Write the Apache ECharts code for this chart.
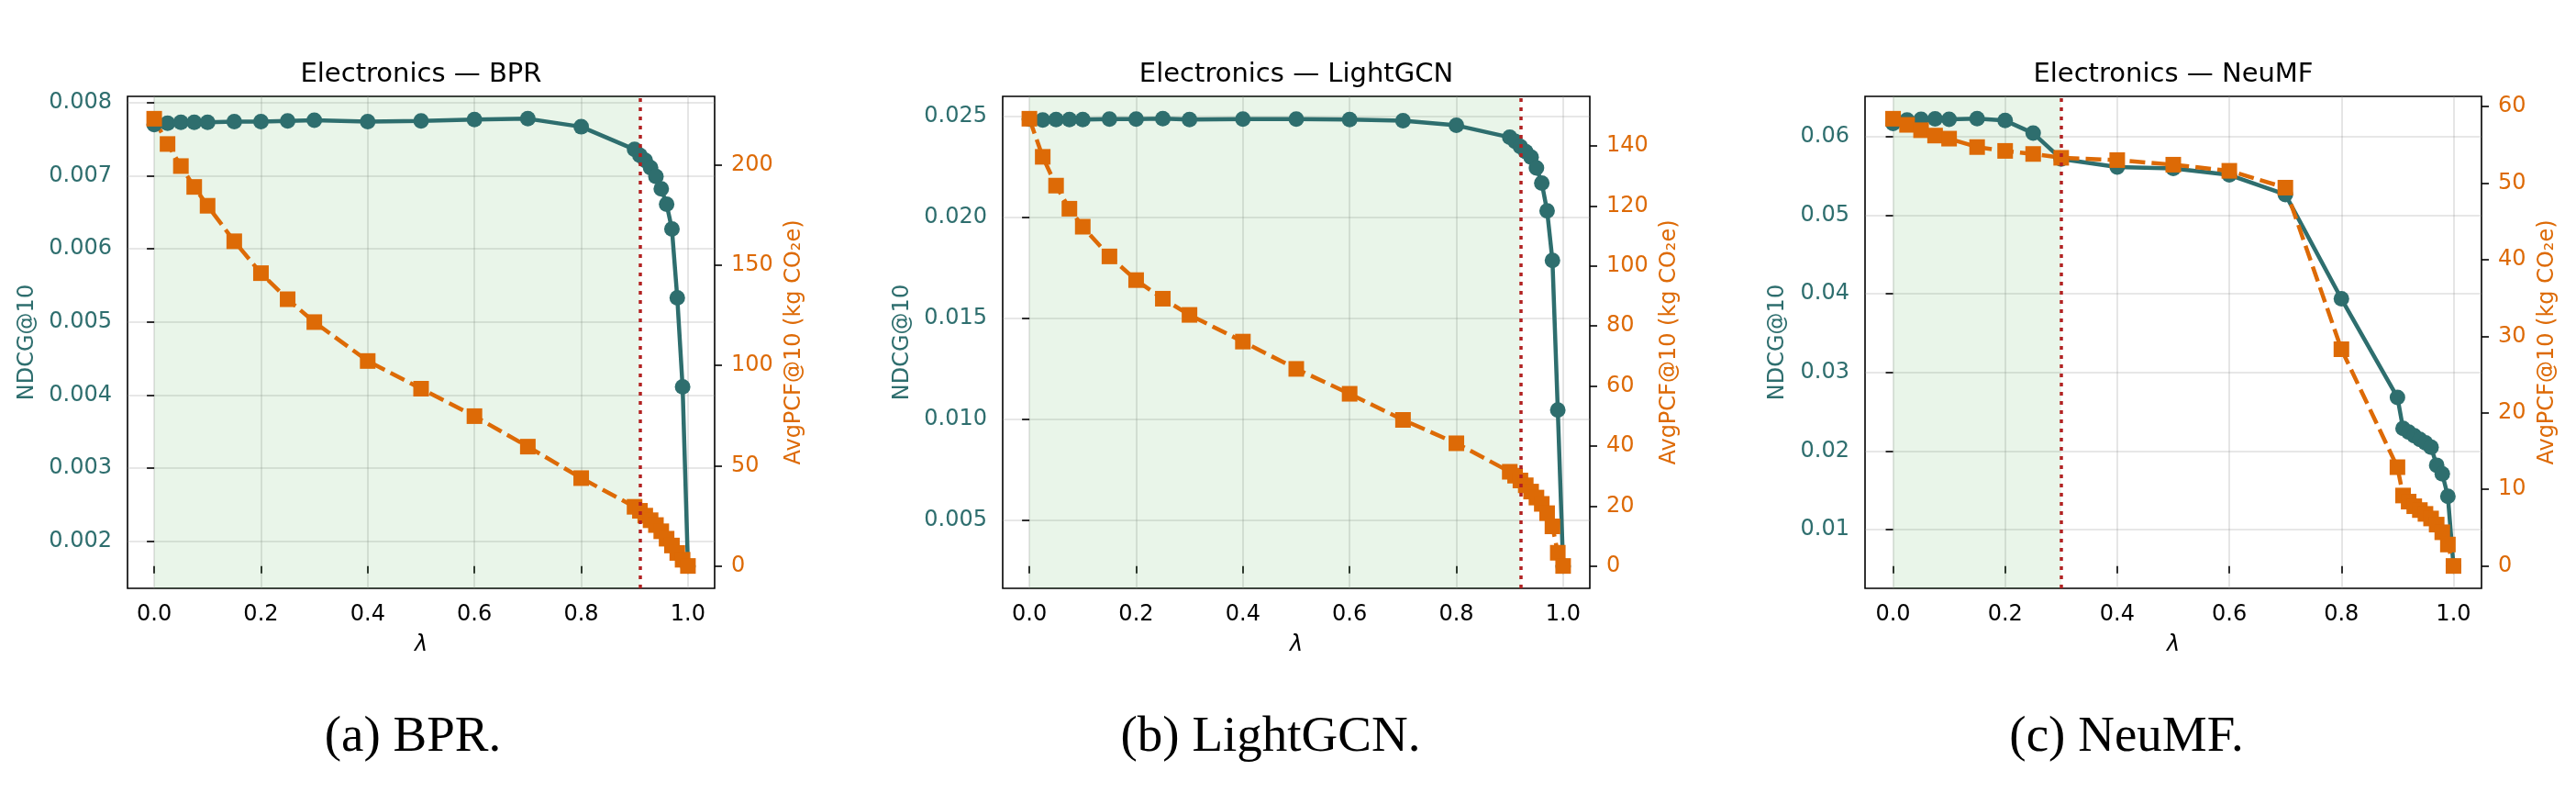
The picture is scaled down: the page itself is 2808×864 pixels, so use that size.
<!DOCTYPE html>
<html>
<head>
<meta charset="utf-8">
<script src="https://cdn.jsdelivr.net/npm/echarts@6/dist/echarts.min.js"></script>
<style>
html,body{margin:0;padding:0;background:#fff;}
#chart{width:2808px;height:864px;}
</style>
</head>
<body>
<div id="chart"></div>
<script>
// ---- data ----
const lambdas = [0, 0.025, 0.05, 0.075, 0.1, 0.15, 0.2, 0.25, 0.3, 0.4, 0.5, 0.6, 0.7, 0.8, 0.9, 0.91, 0.92, 0.93, 0.94, 0.95, 0.96, 0.97, 0.98, 0.99, 1.0];

const bprNdcg = [0.00770, 0.00772, 0.00773, 0.00773, 0.00773, 0.00774, 0.00774, 0.00775, 0.00776, 0.00774, 0.00775, 0.00777, 0.00778, 0.00767, 0.00736, 0.00728, 0.00721, 0.00711, 0.00699, 0.00682, 0.00661, 0.00627, 0.00533, 0.00411, 0.00166];
const bprPcf = [223.0, 210.4, 199.4, 189.0, 179.6, 161.9, 146.0, 133.0, 121.6, 102.2, 88.4, 74.7, 59.5, 43.8, 29.5, 27.5, 25.1, 22.8, 20.4, 17.3, 13.6, 10.2, 6.5, 3.1, 0.0];

const lgcnNdcg = [0.02488, 0.02484, 0.02486, 0.02486, 0.02486, 0.02488, 0.02488, 0.02490, 0.02486, 0.02488, 0.02488, 0.02486, 0.02480, 0.02457, 0.02398, 0.02378, 0.02352, 0.02327, 0.02299, 0.02246, 0.02171, 0.02033, 0.01787, 0.01045, 0.00272];
const lgcnPcf = [149.1, 136.4, 126.8, 119.1, 113.1, 103.2, 95.3, 89.1, 83.7, 74.8, 65.7, 57.4, 48.7, 40.9, 31.4, 30.1, 28.5, 26.9, 24.8, 22.8, 20.7, 17.6, 13.2, 4.4, 0.0];

const neumfNdcg = [0.06172, 0.06214, 0.06224, 0.06230, 0.06224, 0.06231, 0.06208, 0.06047, 0.05719, 0.05615, 0.05599, 0.05516, 0.05266, 0.03938, 0.02682, 0.02286, 0.02240, 0.02193, 0.02146, 0.02104, 0.02047, 0.01818, 0.01708, 0.01422, 0.00535];
const neumfPcf = [58.4, 57.6, 56.9, 56.2, 55.8, 54.7, 54.2, 53.8, 53.3, 53.0, 52.4, 51.6, 49.4, 28.3, 12.9, 9.2, 8.4, 7.8, 7.3, 6.8, 6.2, 5.4, 4.4, 2.8, 0.0];

const thresholds = [0.91, 0.92, 0.30];

const titles = ["Electronics — BPR", "Electronics — LightGCN", "Electronics — NeuMF"];
const captions = ["(a) BPR.", "(b) LightGCN.", "(c) NeuMF."];

const xTicks = [0.0, 0.2, 0.4, 0.6, 0.8, 1.0];
const bprNdcgTicks = [0.002, 0.003, 0.004, 0.005, 0.006, 0.007, 0.008];
const bprPcfTicks = [0, 50, 100, 150, 200];
const lgcnNdcgTicks = [0.005, 0.010, 0.015, 0.020, 0.025];
const lgcnPcfTicks = [0, 20, 40, 60, 80, 100, 120, 140];
const neumfNdcgTicks = [0.01, 0.02, 0.03, 0.04, 0.05, 0.06];
const neumfPcfTicks = [0, 10, 20, 30, 40, 50, 60];

// ---- layout / style ----
const TEAL = '#2E6E6E';
const ORANGE = '#DD6A06';
const FONT = 'DejaVu Sans';
const FS = 24;
const layout = [
  {left: 139, top: 105, width: 640, height: 536, leftGap: 97, rightGap: 75, capX: 450},
  {left: 1093, top: 105, width: 640, height: 536, leftGap: 97, rightGap: 75, capX: 1385},
  {left: 2033, top: 105, width: 672, height: 536, leftGap: 83, rightGap: 60, capX: 2318}
];
const panels = [
  {ndcg: bprNdcg, pcf: bprPcf, nt: bprNdcgTicks, pt: bprPcfTicks, dec: 3},
  {ndcg: lgcnNdcg, pcf: lgcnPcf, nt: lgcnNdcgTicks, pt: lgcnPcfTicks, dec: 3},
  {ndcg: neumfNdcg, pcf: neumfPcf, nt: neumfNdcgTicks, pt: neumfPcfTicks, dec: 2}
];

function padRange(arr) {
  const lo = Math.min.apply(null, arr), hi = Math.max.apply(null, arr);
  const s = hi - lo;
  return [lo - 0.05 * s, hi + 0.05 * s];
}

const grids = [], xAxes = [], yAxes = [], series = [], graphics = [];
panels.forEach((p, i) => {
  const L = layout[i];
  grids.push({left: L.left, top: L.top, width: L.width, height: L.height, show: true,
    borderColor: '#000', borderWidth: 1.6, backgroundColor: 'transparent', containLabel: false});
  const xr = padRange(lambdas);
  xAxes.push({
    type: 'value', gridIndex: i, min: xr[0], max: xr[1],
    axisLine: {show: false},
    axisTick: {show: true, length: 8, customValues: xTicks, lineStyle: {color: '#000', width: 1.6}},
    axisLabel: {customValues: xTicks, formatter: v => v.toFixed(1), color: '#000', fontSize: FS, fontFamily: FONT, margin: 17},
    splitLine: {show: true, lineStyle: {color: 'rgba(150,150,150,0.3)', width: 1.6}},
    name: 'λ', nameLocation: 'middle', nameGap: 50,
    nameTextStyle: {color: '#000', fontSize: FS, fontFamily: FONT, fontStyle: 'italic'}
  });
  const nr = padRange(p.ndcg), pr = padRange(p.pcf);
  yAxes.push({
    type: 'value', gridIndex: i, position: 'left', min: nr[0], max: nr[1],
    axisLine: {show: false},
    axisTick: {show: true, length: 8, customValues: p.nt, lineStyle: {color: '#000', width: 1.6}},
    axisLabel: {customValues: p.nt, formatter: v => v.toFixed(p.dec), color: TEAL, fontSize: FS, fontFamily: FONT, margin: 17},
    splitLine: {show: true, lineStyle: {color: 'rgba(150,150,150,0.3)', width: 1.6}},
    name: 'NDCG@10', nameLocation: 'middle', nameRotate: 90, nameGap: L.leftGap,
    nameTextStyle: {color: TEAL, fontSize: FS, fontFamily: FONT}
  });
  yAxes.push({
    type: 'value', gridIndex: i, position: 'right', min: pr[0], max: pr[1],
    axisLine: {show: false},
    axisTick: {show: true, length: 8, customValues: p.pt, lineStyle: {color: '#000', width: 1.6}},
    axisLabel: {customValues: p.pt, formatter: v => String(v), color: ORANGE, fontSize: FS, fontFamily: FONT, margin: 18},
    splitLine: {show: false},
    name: 'AvgPCF@10 (kg CO₂e)', nameLocation: 'middle', nameRotate: 90, nameGap: L.rightGap,
    nameTextStyle: {color: ORANGE, fontSize: FS, fontFamily: FONT}
  });
  series.push({
    type: 'line', xAxisIndex: i, yAxisIndex: 2 * i,
    data: lambdas.map((l, k) => [l, p.ndcg[k]]),
    symbol: 'circle', symbolSize: 17, showSymbol: true,
    lineStyle: {color: TEAL, width: 4.5}, itemStyle: {color: TEAL},
    markArea: {silent: true, itemStyle: {color: 'rgba(44,160,44,0.10)'},
      data: [[{xAxis: 0}, {xAxis: thresholds[i]}]]},
    markLine: {silent: true, symbol: ['none', 'none'], label: {show: false},
      lineStyle: {color: '#B22222', type: [4, 6], width: 3.5},
      data: [{xAxis: thresholds[i]}]}
  });
  series.push({
    type: 'line', xAxisIndex: i, yAxisIndex: 2 * i + 1,
    data: lambdas.map((l, k) => [l, p.pcf[k]]),
    symbol: 'rect', symbolSize: 17, showSymbol: true,
    lineStyle: {color: ORANGE, width: 4.5, type: [17, 7]}, itemStyle: {color: ORANGE}
  });
  graphics.push({type: 'text', x: L.left + L.width / 2, y: 81,
    style: {text: titles[i], fill: '#000', font: '29px "DejaVu Sans"', textAlign: 'center', textVerticalAlign: 'middle'}});
  graphics.push({type: 'text', x: L.capX, y: 804,
    style: {text: captions[i], fill: '#000', font: '55px "Liberation Serif"', textAlign: 'center', textVerticalAlign: 'middle'}});
});

const chart = echarts.init(document.getElementById('chart'), null, {renderer: 'canvas'});
chart.setOption({
  animation: false,
  backgroundColor: '#fff',
  grid: grids, xAxis: xAxes, yAxis: yAxes, series: series,
  graphic: graphics
});
</script>
</body>
</html>
